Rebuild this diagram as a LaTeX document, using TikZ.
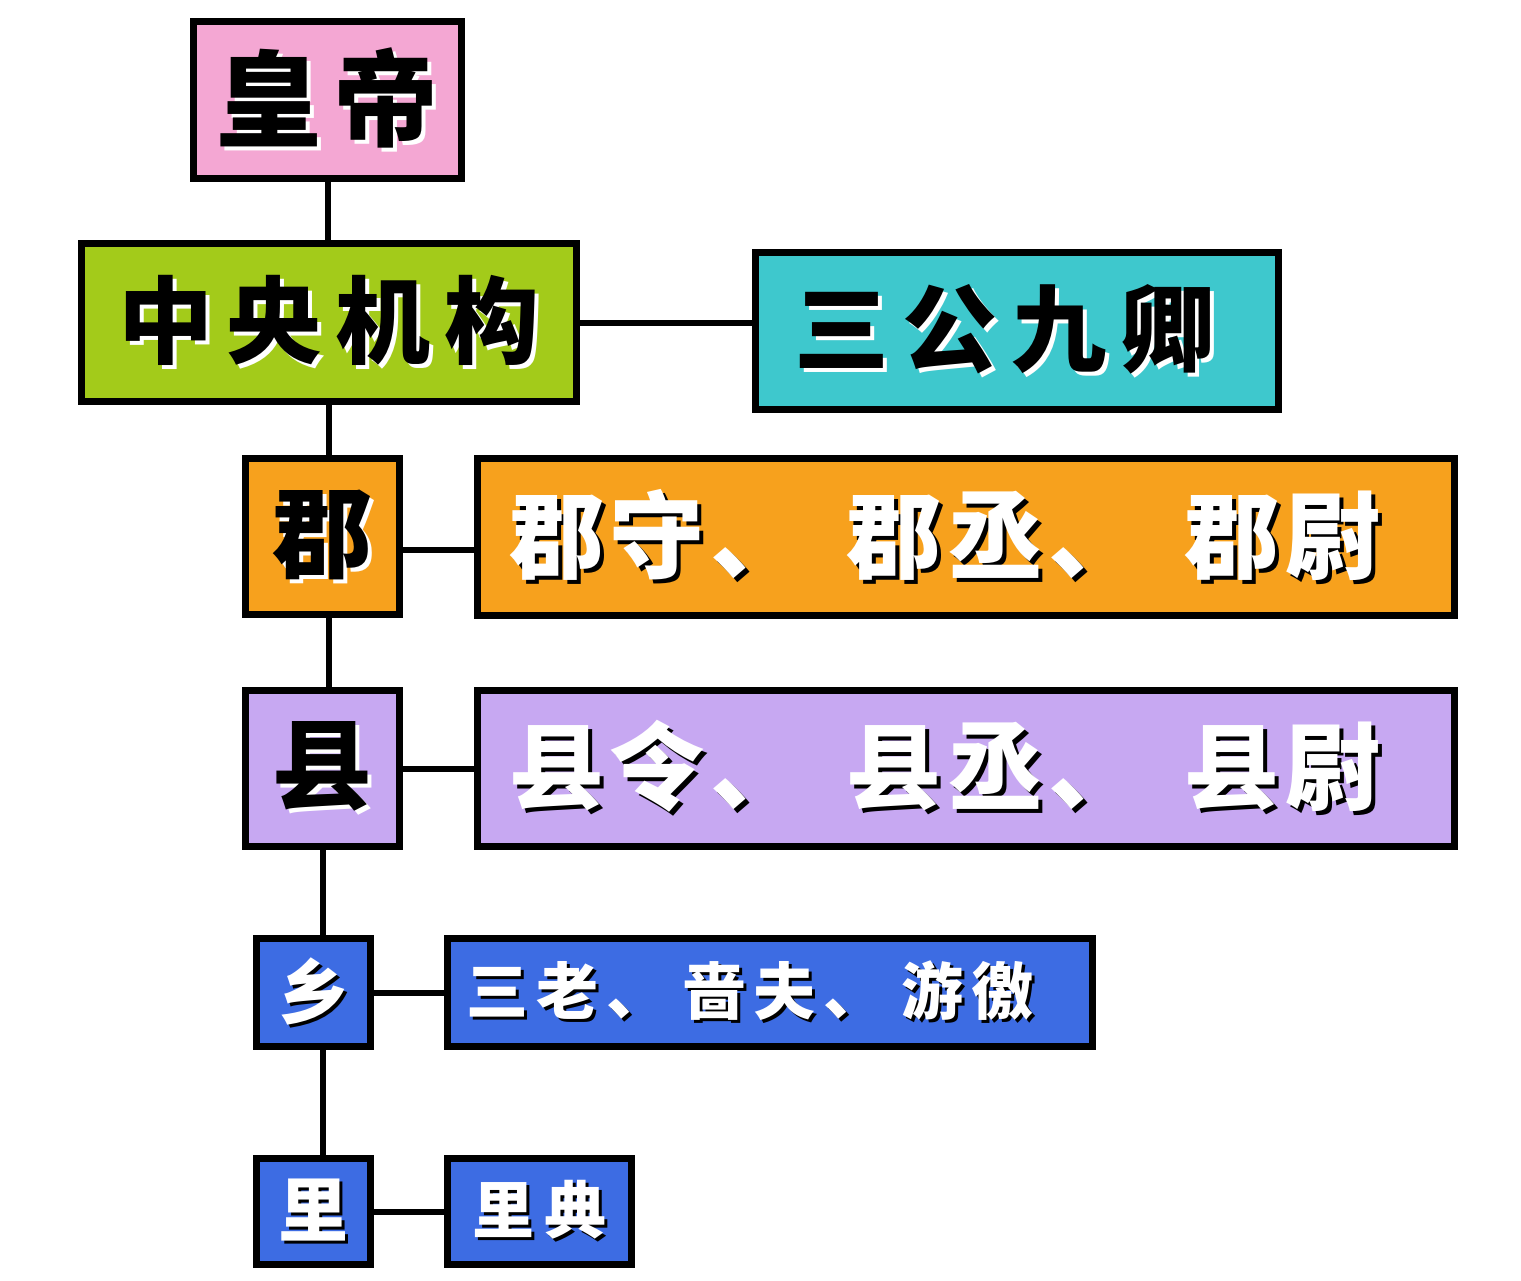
\documentclass[tikz,border=0pt]{standalone}
\usepackage{fontspec}
\newfontfamily\cjk{Noto Sans CJK SC}
\definecolor{cpink}{HTML}{F4A7D3}
\definecolor{cgreen}{HTML}{A3CB1A}
\definecolor{ccyan}{HTML}{3EC8CD}
\definecolor{corange}{HTML}{F7A11D}
\definecolor{clav}{HTML}{C7A8F2}
\definecolor{cblue}{HTML}{3D6CE3}
\newcommand\bkw[2]{\leavevmode\rlap{\kern#1\raisebox{-#1}{\color{white}#2}}{\color{black}#2}}
\newcommand\wkb[2]{\leavevmode\rlap{\kern#1\raisebox{-#1}{\color{black}#2}}{\color{white}#2}}
\newcommand\fsz[1]{\fontsize{#1}{#1}\selectfont}
\tikzset{
  box/.style={draw=black, line width=7pt, inner sep=0pt, font=\cjk\bfseries},
  con/.style={line width=6pt, draw=black}
}
\begin{document}
\begin{tikzpicture}[x=1pt,y=-1pt]
\useasboundingbox[fill=white] (0,0) rectangle (1521,1280);
% nodes
\node[box, fill=cpink, minimum width=268, minimum height=157] (emp) at (327.5,100)
  {\fsz{105}\bkw{4pt}{皇\hspace{12pt}帝}};
\node[box, fill=cgreen, minimum width=495, minimum height=158] (zy) at (329,322.5)
  {\fsz{95}\bkw{4pt}{中\hspace{14pt}央\hspace{14pt}机\hspace{14pt}构}};
\node[box, fill=ccyan, minimum width=523, minimum height=157] (sg) at (1017,331)
  {\fsz{95}\bkw{4pt}{三\hspace{14pt}公\hspace{14pt}九\hspace{14pt}卿}\kern24pt};
\node[box, fill=corange, minimum width=154, minimum height=156] (jun) at (322.5,536.5)
  {\fsz{100}\bkw{4pt}{郡}};
\node[box, fill=corange, minimum width=977, minimum height=157] (junr) at (966,537)
  {\fsz{95}\wkb{4pt}{郡\hspace{6pt}守\hspace{6pt}、\hspace{41pt}郡\hspace{6pt}丞\hspace{6pt}、\hspace{41pt}郡\hspace{6pt}尉}\kern42pt};
\node[box, fill=clav, minimum width=154, minimum height=156] (xian) at (322.5,768.5)
  {\fsz{100}\bkw{4pt}{县}};
\node[box, fill=clav, minimum width=977, minimum height=156] (xianr) at (966,768.5)
  {\fsz{95}\wkb{4pt}{县\hspace{6pt}令\hspace{6pt}、\hspace{41pt}县\hspace{6pt}丞\hspace{6pt}、\hspace{41pt}县\hspace{6pt}尉}\kern42pt};
\node[box, fill=cblue, minimum width=114, minimum height=108] (xiang) at (313.5,992.5)
  {\fsz{70}\wkb{3pt}{乡}};
\node[box, fill=cblue, minimum width=645, minimum height=108] (xiangr) at (770,992.5)
  {\fsz{62}\wkb{3pt}{三\hspace{8pt}老\hspace{8pt}、\hspace{16pt}啬\hspace{8pt}夫\hspace{8pt}、\hspace{16pt}游\hspace{8pt}徼}\kern40pt};
\node[box, fill=cblue, minimum width=114, minimum height=106] (li) at (313.5,1211.5)
  {\fsz{70}\wkb{3pt}{里}};
\node[box, fill=cblue, minimum width=184, minimum height=106] (lir) at (539.5,1211.5)
  {\fsz{62}\wkb{3pt}{里\hspace{10pt}典}};
% connectors
\draw[con] (emp.south) -- (emp.south |- zy.north);
\draw[con] (zy.south) -- (zy.south |- jun.north);
\draw[con] (jun.south -| zy.south) -- (xian.north -| zy.south);
\draw[con] (xian.south) -- (xian.south |- xiang.north);
\draw[con] (xiang.south -| xian.south) -- (li.north -| xian.south);
\draw[con] (zy.east) -- (zy.east -| sg.west);
\draw[con] ([yshift=-13pt]jun.east) -- ([yshift=-13pt]jun.east -| junr.west);
\draw[con] (xian.east) -- (xian.east -| xianr.west);
\draw[con] (xiang.east) -- (xiang.east -| xiangr.west);
\draw[con] (li.east) -- (li.east -| lir.west);
\end{tikzpicture}
\end{document}
